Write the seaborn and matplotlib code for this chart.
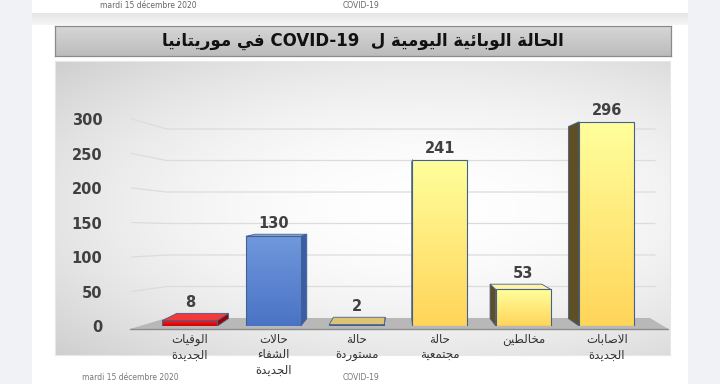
import re
import numpy as np
import pandas as pd
import matplotlib
matplotlib.use("Agg")
import matplotlib.pyplot as plt
import seaborn as sns
from matplotlib.patches import Rectangle, Polygon
from matplotlib.colors import to_rgb

# ---------------- data ----------------
title_text = "الحالة الوبائية اليومية ل  COVID-19 في موريتانيا"
categories = ["الوفيات\nالجديدة", "حالات\nالشفاء\nالجديدة", "حالة\nمستوردة",
              "حالة\nمجتمعية", "مخالطين", "الاصابات\nالجديدة"]
values = [8, 130, 2, 241, 53, 296]
yticks = [0, 50, 100, 150, 200, 250, 300]
footer_date = "mardi 15 décembre 2020"
footer_topic = "COVID-19"

front_top = ["#ff2020", "#7098dc", "#d6bb62", "#ffff9c", "#ffff9c", "#ffff9c"]
front_bot = ["#d00000", "#4a73c5", "#b99b42", "#ffd55a", "#ffd55a", "#ffd55a"]
side_cols = ["#9a0000", "#3a5ea6", "#8a7430", "#5f4f24", "#5f4f24", "#5f4f24"]
topf_cols = ["#f23a3a", "#8eaee8", "#dcc474", "#fff3a6", "#fff3a6", "#fff3a6"]

# ---------------- minimal Arabic shaping ----------------
AR = {
    '\u0621': (0xFE80, 0), '\u0622': (0xFE81, 2), '\u0623': (0xFE83, 2),
    '\u0624': (0xFE85, 2), '\u0625': (0xFE87, 2), '\u0626': (0xFE89, 4),
    '\u0627': (0xFE8D, 2), '\u0628': (0xFE8F, 4), '\u0629': (0xFE93, 2),
    '\u062A': (0xFE95, 4), '\u062B': (0xFE99, 4), '\u062C': (0xFE9D, 4),
    '\u062D': (0xFEA1, 4), '\u062E': (0xFEA5, 4), '\u062F': (0xFEA9, 2),
    '\u0630': (0xFEAB, 2), '\u0631': (0xFEAD, 2), '\u0632': (0xFEAF, 2),
    '\u0633': (0xFEB1, 4), '\u0634': (0xFEB5, 4), '\u0635': (0xFEB9, 4),
    '\u0636': (0xFEBD, 4), '\u0637': (0xFEC1, 4), '\u0638': (0xFEC5, 4),
    '\u0639': (0xFEC9, 4), '\u063A': (0xFECD, 4), '\u0641': (0xFED1, 4),
    '\u0642': (0xFED5, 4), '\u0643': (0xFED9, 4), '\u0644': (0xFEDD, 4),
    '\u0645': (0xFEE1, 4), '\u0646': (0xFEE5, 4), '\u0647': (0xFEE9, 4),
    '\u0648': (0xFEED, 2), '\u0649': (0xFEEF, 2), '\u064A': (0xFEF1, 4),
}
LAM_ALEF = {'\u0627': 0xFEFB, '\u0623': 0xFEF7, '\u0625': 0xFEF9, '\u0622': 0xFEF5}


def shape_line(s):
    items = []
    i = 0
    while i < len(s):
        c = s[i]
        if c == '\u0644' and i + 1 < len(s) and s[i + 1] in LAM_ALEF:
            items.append((LAM_ALEF[s[i + 1]], 2))
            i += 2
            continue
        items.append(AR.get(c, (c, None)))
        i += 1
    out = []
    for k, (b, n) in enumerate(items):
        if n is None:
            out.append(b)
            continue
        prev = items[k - 1] if k > 0 else None
        nxt = items[k + 1] if k + 1 < len(items) else None
        jp = prev is not None and prev[1] == 4
        jn = n == 4 and nxt is not None and nxt[1] is not None and nxt[1] > 0
        if n == 0:
            out.append(chr(b))
        elif n == 2:
            out.append(chr(b + (1 if jp else 0)))
        else:
            form = 3 if (jp and jn) else 1 if jp else 2 if jn else 0
            out.append(chr(b + form))
    vis = ''.join(out)[::-1]
    vis = re.sub(r'[A-Za-z0-9\-]+', lambda m: m.group(0)[::-1], vis)
    return vis


def ar(s):
    return "\n".join(shape_line(l) for l in s.split("\n"))


# ---------------- figure ----------------
W, H = 720, 384
sns.set_style("white")
plt.rcParams['font.family'] = ['DejaVu Sans']
fig = plt.figure(figsize=(7.2, 3.84), dpi=100)
fig.patch.set_facecolor("#f1f2f5")


def frect(x, y, w, h):
    return [x / W, 1 - (y + h) / H, w / W, h / H]


# white page
fig.add_artist(Rectangle((32 / W, 0), (688 - 32) / W, 1, transform=fig.transFigure,
                         facecolor="white", edgecolor="none", zorder=0))
# top band
axb = fig.add_axes(frect(32, 13, 656, 12))
grad = np.linspace(0, 1, 20)[:, None]
band = np.dstack([np.interp(grad, [0, 1], [0.90, 0.96])] * 3)
axb.imshow(band, aspect="auto", extent=[0, 1, 0, 1])
axb.axis("off")

# header text at very top
fig.text(100 / W, 1 - 5.5 / H, footer_date, fontsize=5.5, color="#666666",
         ha="left", va="center")
fig.text(343 / W, 1 - 5.5 / H, footer_topic, fontsize=5.5, color="#666666",
         ha="left", va="center")

# title box
axt = fig.add_axes(frect(55, 26, 616, 30))
g = np.linspace(0, 1, 30)[:, None] * np.ones((1, 2))
c1, c2 = np.array(to_rgb("#d6d6d6")), np.array(to_rgb("#bcbcbc"))
timg = c1[None, None, :] * (1 - g[..., None]) + c2[None, None, :] * g[..., None]
axt.imshow(timg, aspect="auto", extent=[0, 1, 0, 1])
axt.set_xlim(0, 1)
axt.set_ylim(0, 1)
axt.set_xticks([])
axt.set_yticks([])
for s in axt.spines.values():
    s.set_color("#8a8a8a")
    s.set_linewidth(0.9)
axt.text(0.5, 0.5, ar(title_text), ha="center", va="center", fontsize=12,
         fontweight="bold", color="#111111", family=["DejaVu Sans"])

# chart background box
axg = fig.add_axes(frect(55, 61, 615, 294))
yy, xx = np.mgrid[0:1:200j, 0:1:300j]
r = np.sqrt(((xx - 0.6) / 0.85) ** 2 + ((yy - 0.5) / 0.75) ** 2)
val = 1 - 0.2 * np.clip(r, 0, 1) ** 1.9
axg.imshow(np.dstack([val] * 3), aspect="auto", extent=[0, 1, 0, 1])
axg.set_xticks([])
axg.set_yticks([])
for s in axg.spines.values():
    s.set_color("#e8e8e8")
    s.set_linewidth(0.8)

# ---------------- main axes ----------------
PXU_X = 83.33
PXU_Y = 0.69
xlo, xhi = -0.9, 5.7
ylo, yhi = 0, 330
ax = fig.add_axes(frect(115, 326 - (yhi - ylo) * PXU_Y, (xhi - xlo) * PXU_X,
                        (yhi - ylo) * PXU_Y))
ax.patch.set_alpha(0)

df = pd.DataFrame({"cat": [ar(c) for c in categories], "val": values})
sns.barplot(data=df, x="cat", y="val", hue="cat", palette=front_top, width=0.66,
            legend=False, ax=ax, edgecolor="#44608e", linewidth=0.8, saturation=1)
ax.set_xlim(xlo, xhi)
ax.set_ylim(ylo, yhi)

# gridlines (3D style)
for v in yticks[1:]:
    back = 11.6 + 0.913 * v
    ax.plot([-0.70, -0.28, 5.58], [v, back, back], color="#dcdcdc", lw=0.9,
            zorder=0.5, clip_on=False)

# floor
floor = Polygon([(-0.72, -4.3), (-0.28, 11.6), (5.52, 11.6), (5.74, -4.3)],
                closed=True, facecolor="#b8b8b8", edgecolor="none", zorder=1,
                clip_on=False)
ax.add_patch(floor)
ax.plot([-0.72, 5.74], [-4.3, -4.3], color="#8c8c8c", lw=1.0, zorder=1.1,
        clip_on=False)

# 3D faces + gradients
VPX, VPY, T = 2.52, 180.0, 0.06
patches = [p for c in ax.containers for p in c]
patches.sort(key=lambda p: p.get_x())
for i, p in enumerate(patches):
    x0 = p.get_x()
    x1 = x0 + p.get_width()
    h = p.get_height()
    bx0 = x0 + (VPX - x0) * T
    bx1 = x1 + (VPX - x1) * T
    b0 = 0 + (VPY - 0) * T
    bh = h + (VPY - h) * T
    xc = (x0 + x1) / 2
    if xc < VPX:
        side = [(x1, 0), (x1, h), (bx1, bh), (bx1, b0)]
    else:
        side = [(x0, 0), (x0, h), (bx0, bh), (bx0, b0)]
    ax.add_patch(Polygon(side, closed=True, facecolor=side_cols[i],
                         edgecolor="#44608e", lw=0.6, zorder=2))
    top_y = h
    if h < VPY:
        ax.add_patch(Polygon([(x0, h), (x1, h), (bx1, bh), (bx0, bh)], closed=True,
                             facecolor=topf_cols[i], edgecolor="#44608e", lw=0.6,
                             zorder=2))
        top_y = max(h, bh)
    # gradient front face
    ga = np.linspace(0, 1, 64)[:, None] * np.ones((1, 2))
    ct, cb = np.array(to_rgb(front_top[i])), np.array(to_rgb(front_bot[i]))
    img = ct[None, None, :] * (1 - ga[..., None]) + cb[None, None, :] * ga[..., None]
    im = ax.imshow(img, aspect="auto", extent=[x0, x1, 0, h], zorder=2.9,
                   interpolation="bilinear")
    im.set_clip_path(p)
    p.set_facecolor("none")
    p.set_zorder(3)
    ax.annotate(str(values[i]), (xc, top_y), xytext=(0, 2.5),
                textcoords="offset points", ha="center", va="bottom",
                fontsize=10.5, fontweight="bold", color="#404040")

ax.set_xlim(xlo, xhi)
ax.set_ylim(ylo, yhi)
ax.set_yticks(yticks)
ax.set_yticklabels([str(v) for v in yticks], fontsize=10.5, fontweight="bold",
                   color="#404040")
ax.tick_params(axis="y", length=0, pad=9)
ax.tick_params(axis="x", length=0, pad=5, labelsize=8.5, labelcolor="#333333")
for lab in ax.get_xticklabels():
    lab.set_linespacing(1.25)
ax.set_xlabel("")
ax.set_ylabel("")
for s in ax.spines.values():
    s.set_visible(False)

# footer
fig.text(82 / W, 1 - 378 / H, footer_date, fontsize=5.5, color="#777777",
         ha="left", va="center")
fig.text(343 / W, 1 - 378 / H, footer_topic, fontsize=5.5, color="#777777",
         ha="left", va="center")

fig.savefig("out.png", dpi=100, facecolor=fig.get_facecolor())
